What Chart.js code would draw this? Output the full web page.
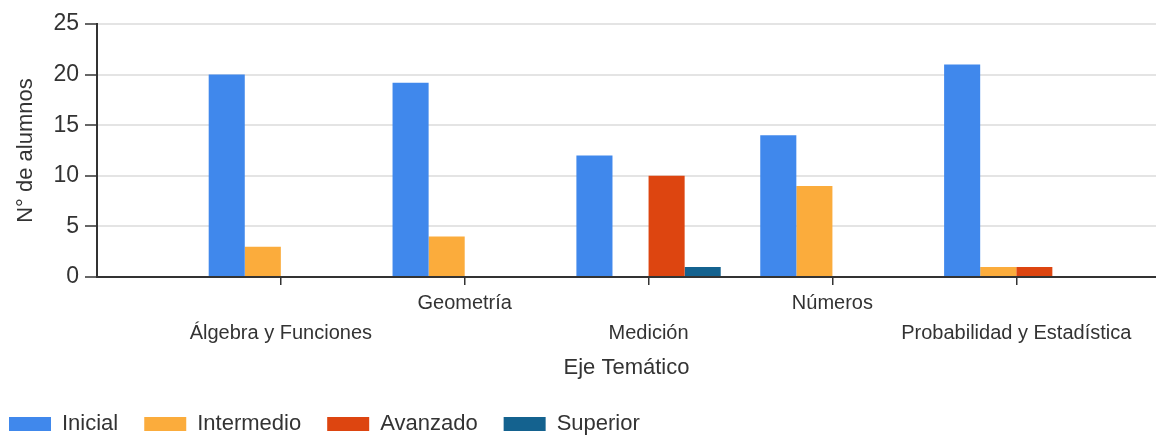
<!DOCTYPE html>
<html>
<head>
<meta charset="utf-8">
<script src="https://cdn.jsdelivr.net/npm/chart.js@4"></script>
<style>
  html, body { margin: 0; padding: 0; background: #fff; }
  #wrap { width: 1156px; height: 439px; }
</style>
</head>
<body>
<div id="wrap"><canvas id="ejeChart" width="1156" height="439"></canvas></div>
<script>
// categorias (eje tematico) y posiciones en el eje x
const ejes = ["Álgebra y Funciones", "Geometría", "Medición", "Números", "Probabilidad y Estadística"];
const ejePos = [1, 2, 3, 4, 5];

// cantidad de alumnos por nivel
const inicial    = [20, 19.2, 12, 14, 21];
const intermedio = [3, 4, 0, 9, 1];
const avanzado   = [0, 0, 10, 0, 1];
const superior   = [0, 0, 1, 0, 0];

const yTicks = [0, 5, 10, 15, 20, 25];

const fontFam = "'Liberation Sans', Arial, sans-serif";

function toPoints(values) {
    return values.map((v, i) => ({x: ejePos[i], y: v}));
}

const data = {
    datasets: [
        { label: "Inicial",    data: toPoints(inicial),    backgroundColor: "#4088ec" },
        { label: "Intermedio", data: toPoints(intermedio), backgroundColor: "#fbac3c" },
        { label: "Avanzado",   data: toPoints(avanzado),   backgroundColor: "#dd4510" },
        { label: "Superior",   data: toPoints(superior),   backgroundColor: "#14628f" }
    ]
};

const config = {
    type: 'bar',
    data: data,
    options: {
        responsive: false,
        animation: false,
        categoryPercentage: 0.785,
        barPercentage: 1,
        layout: {
            padding: { top: 24, right: 0, bottom: -6, left: -17 }
        },
        scales: {
            x: {
                type: 'linear',
                min: 0,
                max: 5.76,
                offset: false,
                afterBuildTicks: scale => {
                    scale.ticks = ejePos.map(v => ({value: v}));
                },
                afterFit: scale => { scale.height = 110; },
                grid: {
                    offset: false,
                    drawOnChartArea: false,
                    drawTicks: true,
                    tickLength: 8,
                    color: '#333',
                    lineWidth: 1.5
                },
                border: { display: true, color: '#333', width: 2 },
                ticks: {
                    autoSkip: false,
                    maxRotation: 0,
                    minRotation: 0,
                    padding: 3,
                    color: '#333',
                    font: { family: fontFam, size: 20, lineHeight: 1.5 },
                    callback: (value, index) => {
                        // etiquetas alternadas en dos filas
                        const i = ejePos.indexOf(value);
                        if (i < 0) return '';
                        return i % 2 === 0 ? ['', ejes[i]] : [ejes[i], ''];
                    }
                },
                title: {
                    display: true,
                    text: 'Eje Temático',
                    color: '#333',
                    font: { family: fontFam, size: 22 },
                    padding: { top: 4, bottom: 6 }
                }
            },
            y: {
                min: 0,
                max: 25,
                afterBuildTicks: scale => {
                    scale.ticks = yTicks.map(v => ({value: v}));
                },
                afterFit: scale => { scale.width = 114; },
                grid: {
                    color: '#e4e4e4',
                    lineWidth: 2,
                    tickLength: 12,
                    tickColor: '#333',
                    tickWidth: 1.5
                },
                border: { display: true, color: '#333', width: 2 },
                ticks: {
                    padding: 6,
                    color: '#333',
                    font: { family: fontFam, size: 23 }
                },
                title: {
                    display: true,
                    text: 'N° de alumnos',
                    color: '#333',
                    font: { family: fontFam, size: 22 },
                    padding: { top: 30, bottom: 0 }
                }
            }
        },
        plugins: {
            legend: {
                position: 'bottom',
                align: 'start',
                labels: {
                    boxWidth: 42,
                    boxHeight: 14,
                    padding: 26,
                    color: '#333',
                    font: { family: fontFam, size: 22 }
                }
            },
            tooltip: { enabled: false }
        }
    }
};

const ctx = document.getElementById("ejeChart").getContext('2d');
const chart = new Chart(ctx, config);
</script>
</body>
</html>
